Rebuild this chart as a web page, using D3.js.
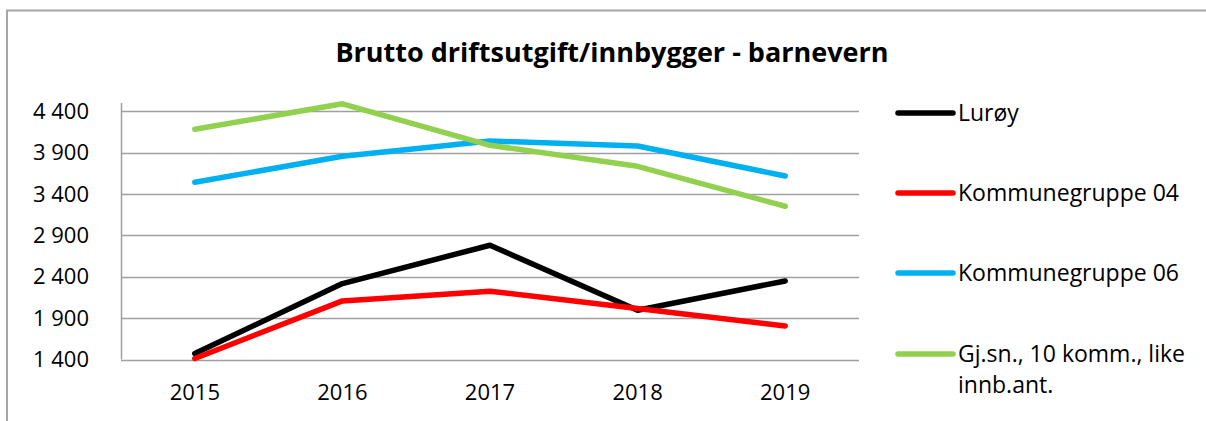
<!DOCTYPE html>
<html>
<head>
<meta charset="utf-8">
<script src="https://cdn.jsdelivr.net/npm/d3@7"></script>
<style>
    body { margin: 0; background: #fff; }
    text { font-family: "Open Sans", sans-serif; fill: #000; }
</style>
</head>
<body>
<script>
// Data
var years = ["2015", "2016", "2017", "2018", "2019"];
var seriesNames = ["Lurøy", "Kommunegruppe 04", "Kommunegruppe 06",
                   "Gj.sn., 10 komm., like innb.ant."];
var seriesColors = ["#000000", "#ff0000", "#00b0f0", "#92d050"];
var luroy = [1472, 2318, 2781, 1996, 2349];
var gruppe04 = [1412, 2108, 2225, 2016, 1806];
var gruppe06 = [3542, 3856, 4041, 3980, 3618];
var gjsnitt = [4182, 4490, 3989, 3735, 3252];
var yTicks = [1400, 1900, 2400, 2900, 3400, 3900, 4400];

var allValues = [luroy, gruppe04, gruppe06, gjsnitt];

var W = 1206, H = 421;
// plot area in page pixels
var plot = {left: 121, right: 859, top: 103, bottom: 359.5};

var svg = d3.select("body").append("svg")
    .attr("width", W)
    .attr("height", H);

// chart frame (top and left edges only are visible)
svg.append("path")
    .attr("d", "M7,421 L7,10.5 L1206,10.5")
    .attr("fill", "none")
    .attr("stroke", "#a6a6a6")
    .attr("stroke-width", 2);

// title
svg.append("text")
    .attr("x", 612)
    .attr("y", 62)
    .attr("text-anchor", "middle")
    .attr("font-weight", "bold")
    .attr("font-size", "27px")
    .text("Brutto driftsutgift/innbygger - barnevern");

var xScale = d3.scaleBand()
    .domain(years)
    .range([plot.left, plot.right])
    .padding(0);

var yScale = d3.scaleLinear()
    .domain([1400, 4500])
    .range([plot.bottom, plot.top]);

var nb = d3.formatLocale({decimal: ",", thousands: " ", grouping: [3],
                          currency: ["", " kr"]});

// horizontal gridlines
svg.append("g")
    .selectAll("line")
    .data(yTicks)
    .enter()
    .append("line")
    .attr("x1", plot.left)
    .attr("x2", plot.right)
    .attr("y1", function(d) { return Math.round(yScale(d)) + 0.5; })
    .attr("y2", function(d) { return Math.round(yScale(d)) + 0.5; })
    .attr("stroke", "#a0a0a0")
    .attr("stroke-width", 1.5);

// y axis line
svg.append("line")
    .attr("x1", plot.left + 0.5)
    .attr("x2", plot.left + 0.5)
    .attr("y1", plot.top)
    .attr("y2", plot.bottom)
    .attr("stroke", "#a0a0a0")
    .attr("stroke-width", 1.5);

// y axis labels
var yAxis = d3.axisLeft(yScale)
    .tickValues(yTicks)
    .tickSize(0)
    .tickPadding(0)
    .tickFormat(nb.format(","));

var yG = svg.append("g")
    .attr("transform", "translate(" + 89 + ",0)")
    .call(yAxis);
yG.select(".domain").remove();
yG.selectAll("text")
    .attr("font-size", "22px")
    .attr("font-family", "Open Sans, sans-serif")
    .attr("fill", "#000");

// x axis labels
var xAxis = d3.axisBottom(xScale).tickSize(0).tickPadding(0);
var xG = svg.append("g")
    .attr("transform", "translate(0," + 384 + ")")
    .call(xAxis);
xG.select(".domain").remove();
xG.selectAll("text")
    .attr("font-size", "22px")
    .attr("font-family", "Open Sans, sans-serif")
    .attr("fill", "#000");

// the lines
var line = d3.line()
    .x(function(d, i) { return xScale(years[i]) + xScale.bandwidth() / 2; })
    .y(function(d) { return yScale(d); });

svg.append("g")
    .selectAll("path")
    .data(allValues)
    .enter()
    .append("path")
    .attr("d", function(d) { return line(d); })
    .attr("fill", "none")
    .attr("stroke", function(d, i) { return seriesColors[i]; })
    .attr("stroke-width", 5.5)
    .attr("stroke-linecap", "round")
    .attr("stroke-linejoin", "round");

// legend
var legendY = [113, 193, 273, 354];
var legend = svg.append("g")
    .selectAll("g")
    .data(seriesNames)
    .enter()
    .append("g")
    .attr("transform", function(d, i) {
        return "translate(898," + legendY[i] + ")";
    });

legend.append("line")
    .attr("x1", 0)
    .attr("x2", 55)
    .attr("stroke", function(d, i) { return seriesColors[i]; })
    .attr("stroke-width", 5.5)
    .attr("stroke-linecap", "round");

legend.append("text")
    .attr("x", 60)
    .attr("y", 8)
    .attr("font-size", "23px")
    .each(function(d) {
        // wrap the long name like the original
        var parts = d === seriesNames[3] ? ["Gj.sn., 10 komm., like", "innb.ant."] : [d];
        var t = d3.select(this);
        parts.forEach(function(p, k) {
            t.append("tspan")
                .attr("x", 60)
                .attr("dy", k === 0 ? 0 : 31)
                .text(p);
        });
    });
</script>
</body>
</html>
